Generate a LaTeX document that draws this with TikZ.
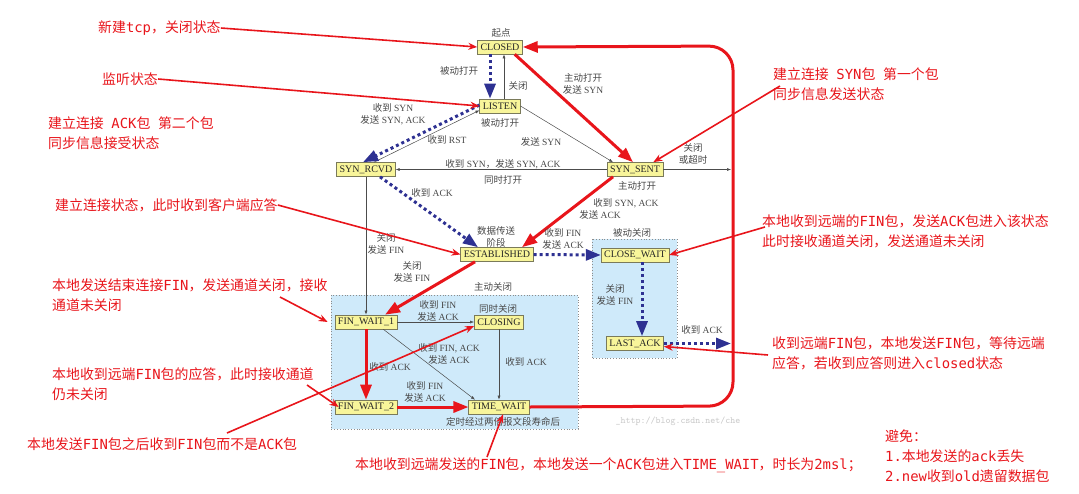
\documentclass[tikz,border=0pt]{standalone}
\usepackage{fontspec}
\setmainfont{Liberation Serif}
\newfontfamily\cjk{Noto Sans CJK SC}
\newfontfamily\mono{DejaVu Sans Mono}
\usetikzlibrary{arrows.meta}
\newcommand\zh[1]{{\cjk #1}}
\newcommand\mn[1]{{\mono #1}}
\definecolor{stfill}{HTML}{F8F59A}
\definecolor{stdraw}{HTML}{7A7A5A}
\definecolor{navy}{HTML}{2E3192}
\definecolor{ared}{HTML}{E8151B}
\definecolor{shade}{HTML}{CFEAFA}
\begin{document}
\begin{tikzpicture}[x=1pt,y=-1pt,
 state/.style={draw=stdraw, fill=stfill, line width=0.6pt, inner xsep=3pt, inner ysep=0pt, minimum height=14pt, font=\fontsize{10}{11}\selectfont, text=black!85},
 lab/.style={font=\fontsize{9.5}{12}\selectfont, text=black!72, align=center, inner sep=0pt},
 thinarr/.style={draw=black!70, line width=0.5pt, -{Latex[length=4pt,width=3pt]}},
 bluearr/.style={draw=navy, line width=3pt, dash pattern=on 3pt off 3pt, -{Triangle[length=15pt,width=11pt]}},
 redarr/.style={draw=ared, line width=3pt, -{Triangle[length=15pt,width=11pt]}},
 note/.style={text=ared, font=\fontsize{13.9}{20}\selectfont\cjk, align=left, inner sep=0pt, anchor=west},
 noteline/.style={draw=ared, line width=1.6pt, -{Stealth[length=9pt,width=7pt]}},
 zone/.style={draw=black!45, dotted, line width=0.8pt, fill=shade}
]
\useasboundingbox (0,0) rectangle (1079,493);
% zones
\path[zone] (592,239) rectangle (677,358);
\path[zone] (331,295) rectangle (578,429);
% states
\node[state] (closed) at (500,47) {CLOSED};
\node[state] (listen) at (500,106) {LISTEN};
\node[state] (synrcvd) at (366,169.5) {SYN\_RCVD};
\node[state] (synsent) at (635,169.5) {SYN\_SENT};
\node[state] (estab) at (497,254.5) {ESTABLISHED};
\node[state] (closewait) at (635,255) {CLOSE\_WAIT};
\node[state] (lastack) at (635,343.5) {LAST\_ACK};
\node[state] (fw1) at (366,322) {FIN\_WAIT\_1};
\node[state] (closing) at (499,322) {CLOSING};
\node[state] (fw2) at (366,407) {FIN\_WAIT\_2};
\node[state] (tw) at (499,407) {TIME\_WAIT};
\coordinate (sR) at (731,169.5);
\coordinate (lR) at (731,343.5);
% thin arrows
\draw[thinarr] ([xshift=4pt]listen.north) -- ([xshift=4pt]closed.south);
\draw[thinarr] ([xshift=8pt]synrcvd.north) -- ([yshift=3pt]listen.south west);
\draw[thinarr] (listen.east) -- ([xshift=-22pt]synsent.north);
\draw[thinarr] (synsent.west) -- (synrcvd.east);
\draw[thinarr] (synsent.east) -- (sR);
\draw[thinarr] (synrcvd.south) -- (fw1.north);
\draw[thinarr] (fw1.east) -- (closing.west);
\draw[thinarr] ([xshift=-14pt]fw1.south east) -- ([xshift=-24pt]tw.north);
\draw[thinarr] (closing.south) -- (tw.north);
% blue dashed arrows
\draw[bluearr] ([xshift=-10pt]closed.south) -- ([xshift=-10pt]listen.north);
\draw[bluearr] ([yshift=1pt]listen.west) -- ([xshift=-3pt]synrcvd.north);
\draw[bluearr] ([xshift=14pt]synrcvd.south) -- ([xshift=-19pt]estab.north);
\draw[bluearr] (estab.east) -- (closewait.west);
\draw[bluearr] ([xshift=7pt]closewait.south) -- ([xshift=7pt]lastack.north);
\draw[bluearr] (lastack.east) -- (lR);
% red thick arrows
\draw[redarr] ([xshift=-8pt]closed.south east) -- ([xshift=-2pt]synsent.north);
\draw[redarr] ([xshift=-22pt]synsent.south) -- ([xshift=25pt]estab.north);
\draw[redarr] ([xshift=-22pt]estab.south) -- ([xshift=19pt]fw1.north);
\draw[redarr] (fw1.south) -- (fw2.north);
\draw[redarr] (fw2.east) -- (tw.west);
\draw[redarr, rounded corners=24pt] (tw.east) -- (733,406) -- (733,46) -- (closed.east);
% labels
\node[lab] (l1) at (501,33) {\zh{起点}};
\node[lab] (l2) at (459,71) {\zh{被动打开}};
\node[lab] (l3) at (518,86) {\zh{关闭}};
\node[lab] (l4) at (583,84) {\zh{主动打开}\\\zh{发送} SYN};
\node[lab] (l5) at (393,114) {\zh{收到} SYN\\\zh{发送} SYN, ACK};
\node[lab] (l6) at (500,123) {\zh{被动打开}};
\node[lab] (l7) at (447,140) {\zh{收到} RST};
\node[lab] (l8) at (541,142) {\zh{发送} SYN};
\node[lab] (l9) at (503,164) {\zh{收到} SYN\zh{，发送} SYN, ACK};
\node[lab] (l10) at (503,180) {\zh{同时打开}};
\node[lab] (l11) at (693,154) {\zh{关闭}\\\zh{或超时}};
\node[lab] (l12) at (637,186) {\zh{主动打开}};
\node[lab] (l13) at (432,193) {\zh{收到} ACK};
\node[lab] (l14) at (626,203) {\zh{收到} SYN, ACK};
\node[lab] (l15) at (600,215) {\zh{发送} ACK};
\node[lab] (l16) at (496,237) {\zh{数据传送}\\\zh{阶段}};
\node[lab] (l17) at (563,239) {\zh{收到} FIN\\\zh{发送} ACK};
\node[lab] (l18) at (386,244) {\zh{关闭}\\\zh{发送} FIN};
\node[lab] (l19) at (412,272) {\zh{关闭}\\\zh{发送} FIN};
\node[lab] (l20) at (493,287) {\zh{主动关闭}};
\node[lab] (l21) at (632,233) {\zh{被动关闭}};
\node[lab] (l22) at (615,295) {\zh{关闭}\\\zh{发送} FIN};
\node[lab] (l23) at (702,330) {\zh{收到} ACK};
\node[lab] (l24) at (438,311) {\zh{收到} FIN\\\zh{发送} ACK};
\node[lab] (l25) at (498,309) {\zh{同时关闭}};
\node[lab] (l26) at (449,354) {\zh{收到} FIN, ACK\\\zh{发送} ACK};
\node[lab] (l27) at (390,367) {\zh{收到} ACK};
\node[lab] (l28) at (526,362) {\zh{收到} ACK};
\node[lab] (l29) at (425,392) {\zh{收到} FIN\\\zh{发送} ACK};
\node[lab] (l30) at (503,422) {\zh{定时经过两倍报文段寿命后}};
\node[lab, text=black!22, font=\fontsize{9.5}{11}\selectfont\ttfamily] (wm) at (678,421) {\_http://blog.csdn.net/che};
% red notes
\node[note] (n1) at (98,28) {新建\mn{tcp}，关闭状态};
\node[note] (n2) at (102,79) {监听状态};
\node[note] (n3) at (48,133) {建立连接\hspace{0.55em}\mn{ACK}包\hspace{0.55em}第二个包\\同步信息接受状态};
\node[note] (n4) at (55,205) {建立连接状态，此时收到客户端应答};
\node[note] (n5) at (52,295) {本地发送结束连接\mn{FIN}，发送通道关闭，接收\\通道未关闭};
\node[note] (n6) at (52,384) {本地收到远端\mn{FIN}包的应答，此时接收通道\\仍未关闭};
\node[note] (n7) at (27,444) {本地发送\mn{FIN}包之后收到\mn{FIN}包而不是\mn{ACK}包};
\node[note] (n8) at (773,84) {建立连接\hspace{0.55em}\mn{SYN}包\hspace{0.55em}第一个包\\同步信息发送状态};
\node[note] (n9) at (762,231) {本地收到远端的\mn{FIN}包，发送\mn{ACK}包进入该状态\\此时接收通道关闭，发送通道未关闭};
\node[note] (n10) at (772,353) {收到远端\mn{FIN}包，本地发送\mn{FIN}包，等待远端\\应答，若收到应答则进入\mn{closed}状态};
\node[note] (n11) at (355,465) {本地收到远端发送的\mn{FIN}包，本地发送一个\mn{ACK}包进入\mn{TIME\_WAIT}，时长为\mn{2msl}；};
\node[note] (n12) at (885,456) {避免：\\\mn{1.}本地发送的\mn{ack}丢失\\\mn{2.new}收到\mn{old}遗留数据包};
% note connectors
\coordinate (a5) at (280,297);
\coordinate (a6) at (307,385);
\coordinate (a7) at (227,433);
\coordinate (a8) at (780,86);
\coordinate (a9) at (765,227);
\coordinate (a10) at (768,355);
\coordinate (a11) at (487,457);
\draw[noteline] (n1.east) -- (closed.west);
\draw[noteline] (n2.east) -- (listen.west);
\draw[noteline] (n4.east) -- (estab.west);
\draw[noteline] (a5) -- ([xshift=-7pt]fw1.west);
\draw[noteline] (a6) -- ([xshift=4pt]fw2.west);
\draw[noteline] (a7) -- ([yshift=-4pt]closing.west);
\draw[noteline] (a8) -- ([xshift=-10pt]synsent.north east);
\draw[noteline] (a9) -- (closewait.east);
\draw[noteline] (a10) -- ([yshift=-3pt]lastack.east);
\draw[noteline] (a11) -- ([xshift=4pt]tw.south);
\end{tikzpicture}
\end{document}
